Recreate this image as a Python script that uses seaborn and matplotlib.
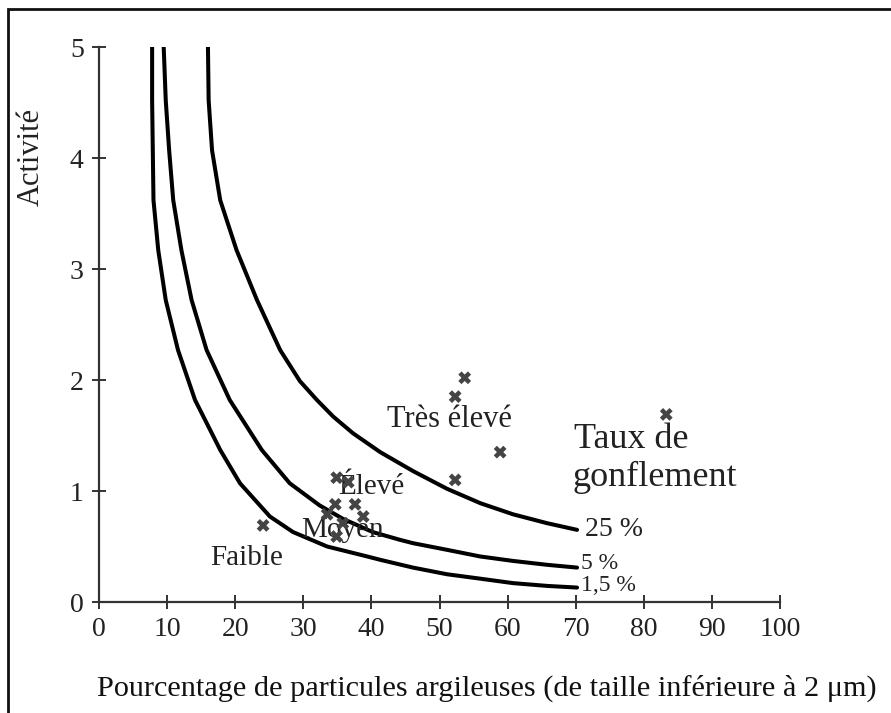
import matplotlib
matplotlib.use("Agg")
import matplotlib.pyplot as plt
from matplotlib.patches import Rectangle
import numpy as np
import pandas as pd
import seaborn as sns

# Swelling-potential curves (clay fraction %, activity)
clay_15 = [7.8, 7.8, 7.9, 8.0, 8.7, 9.8, 11.6, 14.1, 17.8, 20.7, 25.1, 28.5, 33.5, 39.4,
           41.3, 46.1, 51.1, 56.0, 60.8, 65.8, 70.2]
act_15 = [5.00, 4.52, 4.07, 3.62, 3.17, 2.72, 2.27, 1.82, 1.37, 1.07, 0.77, 0.63, 0.50, 0.41,
          0.38, 0.31, 0.25, 0.21, 0.17, 0.145, 0.13]

clay_5 = [9.5, 9.8, 10.3, 10.9, 12.1, 13.6, 15.8, 19.2, 23.9, 28.0, 32.4, 35.8, 40.2, 44.2,
          46.1, 51.1, 56.0, 60.8, 65.8, 70.2]
act_5 = [5.00, 4.52, 4.07, 3.62, 3.17, 2.72, 2.27, 1.82, 1.37, 1.07, 0.87, 0.75, 0.63, 0.56,
         0.53, 0.47, 0.41, 0.37, 0.335, 0.31]

clay_25 = [16.0, 16.1, 16.6, 17.8, 20.2, 23.2, 26.6, 29.5, 32.0, 34.4, 37.3, 41.3, 46.1,
           51.1, 56.0, 60.8, 65.8, 70.2]
act_25 = [5.00, 4.52, 4.07, 3.62, 3.17, 2.72, 2.27, 1.99, 1.82, 1.67, 1.52, 1.35, 1.18,
          1.02, 0.89, 0.79, 0.71, 0.65]

curve_labels = ["1,5 %", "5 %", "25 %"]

# Soil samples
sample_clay = [53.7, 52.3, 58.9, 52.3, 83.3, 34.9, 36.6, 34.7, 37.6, 33.5, 38.8, 35.8, 34.9, 24.1]
sample_act = [2.02, 1.85, 1.35, 1.10, 1.69, 1.12, 1.08, 0.88, 0.88, 0.79, 0.77, 0.71, 0.59, 0.69]

x_ticks = [0, 10, 20, 30, 40, 50, 60, 70, 80, 90, 100]
y_ticks = [0, 1, 2, 3, 4, 5]

curves = pd.concat([
    pd.DataFrame({"clay": c, "act": a, "taux": lab})
    for c, a, lab in zip([clay_15, clay_5, clay_25], [act_15, act_5, act_25], curve_labels)
])
samples = pd.DataFrame({"clay": sample_clay, "act": sample_act})

sns.set_theme(style="ticks")
plt.rcParams["font.family"] = ["Liberation Serif", "DejaVu Serif"]

W, H = 891, 713
fig = plt.figure(figsize=(W / 100, H / 100), dpi=100)
ax = fig.add_axes([99 / W, 1 - 602 / H, (780 - 99) / W, (602 - 47) / H])

sns.lineplot(data=curves, x="clay", y="act", units="taux", estimator=None, sort=False,
             color="black", linewidth=2.9, ax=ax, legend=False)
sns.scatterplot(data=samples, x="clay", y="act", marker="X", s=85, color="#444444",
                edgecolor="none", ax=ax, legend=False, zorder=5)

ax.set_xlim(0, 100)
ax.set_ylim(0, 5)
ax.set_xticks(x_ticks)
ax.set_yticks(y_ticks)
ax.set_xlabel("")
ax.set_ylabel("")
for side in ["top", "right"]:
    ax.spines[side].set_visible(False)
for side in ["left", "bottom"]:
    ax.spines[side].set_color("#333333")
    ax.spines[side].set_linewidth(1.6)
ax.tick_params(direction="inout", length=10, width=1.4, color="#333333",
               labelsize=20, labelcolor="#222222", pad=6)
ax.patch.set_alpha(0)

# Region labels
txt = dict(color="#222222", ha="center", va="center")
ax.text(51.5, 1.64, "Très élevé", fontsize=22, **txt)
ax.text(40.0, 1.04, "Élevé", fontsize=21, **txt)
ax.text(35.7, 0.65, "Moyen", fontsize=21, **txt)
ax.text(21.7, 0.40, "Faible", fontsize=21, **txt)
ax.text(69.8, 1.46, "Taux de", fontsize=26, color="#222222", ha="left", va="center")
ax.text(69.6, 1.12, "gonflement", fontsize=26, color="#222222", ha="left", va="center")

# Curve end labels
ax.text(71.4, 0.65, curve_labels[2], fontsize=20, color="#222222", ha="left", va="center")
ax.text(70.8, 0.35, curve_labels[1], fontsize=17, color="#222222", ha="left", va="center")
ax.text(70.8, 0.15, curve_labels[0], fontsize=17, color="#222222", ha="left", va="center")

# Axis titles
fig.text(97 / W, 1 - 688 / H, "Pourcentage de particules argileuses (de taille inférieure à 2 μm)",
         fontsize=21.8, color="#111111", ha="left", va="center")
fig.text(31 / W, 1 - 157 / H, "Activité", fontsize=22, color="#222222",
         rotation=90, ha="center", va="center")

# Outer frame
fig.patches.append(Rectangle((8 / W, -0.2), 1.2, 1.2 - 9 / H, transform=fig.transFigure,
                             fill=False, edgecolor="#111111", linewidth=2.0))

fig.savefig("out.png", dpi=100)
